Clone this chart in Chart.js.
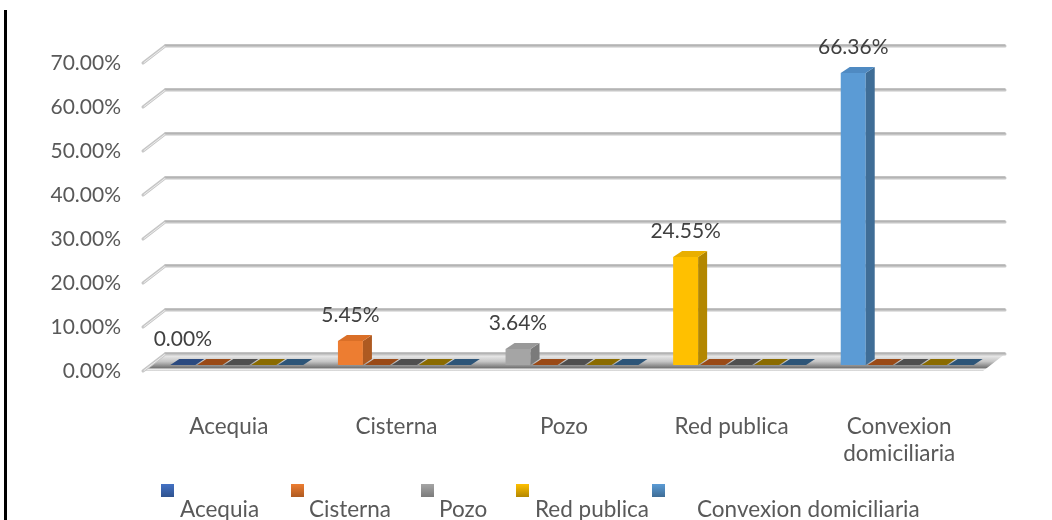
<!DOCTYPE html>
<html>
<head>
<meta charset="utf-8">
<script src="https://cdn.jsdelivr.net/npm/chart.js@4.4.1/dist/chart.umd.min.js"></script>
<style>
html,body{margin:0;padding:0;background:#ffffff;}
canvas{display:block;}
</style>
</head>
<body>
<canvas id="c" width="1052" height="520"></canvas>
<script>
// ---- data ----
const categories = ['Acequia', 'Cisterna', 'Pozo', 'Red publica', 'Convexion domiciliaria'];
const percentages = [0.00, 5.45, 3.64, 24.55, 66.36];
const emptySeries2 = [0, 0, 0, 0, 0];
const emptySeries3 = [0, 0, 0, 0, 0];
const emptySeries4 = [0, 0, 0, 0, 0];
const emptySeries5 = [0, 0, 0, 0, 0];
const yTickValues = [0, 10, 20, 30, 40, 50, 60, 70];

// ---- styles ----
const pointColors = ['#4472C4', '#ED7D31', '#A5A5A5', '#FFC000', '#5B9BD5'];
const pointSide   = ['#2F528F', '#AE5A21', '#7B7B7B', '#B38700', '#3F6D96'];
const pointTop    = ['#3E68B4', '#DA6F27', '#999999', '#E9AF00', '#4F8AC2'];
const pointSlab   = ['#2B4A80', '#9A4A17', '#555555', '#8A6B00', '#2D5578'];
const emptyColors = ['#ED7D31', '#A5A5A5', '#FFC000', '#5B9BD5'];
const emptySlab   = ['#9A4A17', '#4F4F4F', '#8A6B00', '#2D5578'];
const DX = 9, DY = 6;
const FONT = 'Lato';

function slabColor(di, i) { return di === 0 ? pointSlab[i] : emptySlab[di - 1]; }

const frame = {
  id: 'frame',
  beforeDraw(chart) {
    const ctx = chart.ctx;
    ctx.save();
    ctx.fillStyle = '#000';
    ctx.fillRect(4, 10, 3, 510);
    ctx.restore();
  }
};

const bars3d = {
  id: 'bars3d',
  beforeDatasetsDraw(chart) {
    const {ctx, chartArea: a, scales: {y}} = chart;
    const y0 = y.getPixelForValue(0);
    ctx.save();
    // floor
    const fl = a.left - 10, br = a.right + 14;
    const g = ctx.createLinearGradient(0, y0 - 11, 0, y0 + 6);
    g.addColorStop(0, '#F4F4F4');
    g.addColorStop(0.45, '#C4C4C4');
    g.addColorStop(0.8, '#767676');
    g.addColorStop(0.9, '#F0F0F0');
    g.addColorStop(1, '#CFCFCF');
    ctx.fillStyle = g;
    ctx.beginPath();
    ctx.moveTo(fl, y0 + 6);
    ctx.lineTo(a.left + 12, y0 - 11);
    ctx.lineTo(br, y0 - 11);
    ctx.lineTo(a.right - 8, y0 + 6);
    ctx.closePath();
    ctx.fill();
    // gridlines (back wall + left diagonal)
    yTickValues.forEach(v => {
      const yb = y.getPixelForValue(v);
      ctx.lineCap = 'round';
      ctx.strokeStyle = '#C6C6C6';
      ctx.lineWidth = 3;
      ctx.beginPath();
      ctx.moveTo(fl, yb + 6);
      ctx.lineTo(a.left + 12, yb - 11);
      ctx.lineTo(br, yb - 11);
      ctx.stroke();
      ctx.strokeStyle = '#A2A2A2';
      ctx.lineWidth = 1;
      ctx.beginPath();
      ctx.moveTo(a.left + 12, yb - 12);
      ctx.lineTo(br, yb - 12);
      ctx.stroke();
      ctx.strokeStyle = '#EDEDED';
      ctx.beginPath();
      ctx.moveTo(fl + 1, yb + 5.5);
      ctx.lineTo(a.left + 12, yb - 10.5);
      ctx.stroke();
    });
    // flat slabs for zero values
    chart.data.datasets.forEach((ds, di) => {
      const meta = chart.getDatasetMeta(di);
      meta.data.forEach((el, i) => {
        if (ds.data[i] !== 0) return;
        const {x, base, width} = el.getProps(['x', 'base', 'width'], true);
        const L = x - width / 2, R = x + width / 2;
        ctx.fillStyle = slabColor(di, i);
        ctx.beginPath();
        ctx.moveTo(L, base);
        ctx.lineTo(L + DX, base - DY);
        ctx.lineTo(R + DX, base - DY);
        ctx.lineTo(R, base);
        ctx.closePath();
        ctx.fill();
      });
    });
    ctx.restore();
  },
  afterDatasetsDraw(chart) {
    const ctx = chart.ctx;
    ctx.save();
    chart.data.datasets.forEach((ds, di) => {
      const meta = chart.getDatasetMeta(di);
      meta.data.forEach((el, i) => {
        if (ds.data[i] === 0) return;
        const {x, y, base, width} = el.getProps(['x', 'y', 'base', 'width'], true);
        const L = x - width / 2, R = x + width / 2;
        ctx.fillStyle = pointSide[i];
        ctx.beginPath();
        ctx.moveTo(R, y);
        ctx.lineTo(R + DX, y - DY);
        ctx.lineTo(R + DX, base - DY);
        ctx.lineTo(R, base);
        ctx.closePath();
        ctx.fill();
        ctx.fillStyle = pointTop[i];
        ctx.beginPath();
        ctx.moveTo(L, y);
        ctx.lineTo(L + DX, y - DY);
        ctx.lineTo(R + DX, y - DY);
        ctx.lineTo(R, y);
        ctx.closePath();
        ctx.fill();
      });
    });
    // data labels for the main series
    const meta0 = chart.getDatasetMeta(0);
    ctx.font = '21px ' + FONT;
    ctx.fillStyle = '#404040';
    ctx.textAlign = 'center';
    ctx.textBaseline = 'middle';
    meta0.data.forEach((el, i) => {
      const {x, y} = el.getProps(['x', 'y'], true);
      ctx.fillText(percentages[i].toFixed(2) + '%', x, y - 26);
    });
    ctx.restore();
  }
};

const legendRow = {
  id: 'legendRow',
  afterDraw(chart) {
    const ctx = chart.ctx;
    const boxX = [161, 291, 421, 516, 652];
    const textX = [180, 309, 439, 535, 697];
    ctx.save();
    categories.forEach((c, i) => {
      const g = ctx.createLinearGradient(0, 484, 0, 497);
      g.addColorStop(0, pointColors[i]);
      g.addColorStop(1, pointSide[i]);
      ctx.fillStyle = g;
      ctx.fillRect(boxX[i], 484, 13, 13);
      ctx.font = '22.5px ' + FONT;
      ctx.fillStyle = '#595959';
      ctx.textAlign = 'left';
      ctx.textBaseline = 'middle';
      ctx.fillText(c, textX[i], 510);
    });
    ctx.restore();
  }
};

Chart.defaults.font.family = FONT;
Chart.defaults.font.size = 21;
Chart.defaults.color = '#595959';

new Chart(document.getElementById('c'), {
  type: 'bar',
  data: {
    labels: categories,
    datasets: [
      { label: 'Porcentaje', data: percentages, backgroundColor: pointColors },
      { label: 'Serie 2', data: emptySeries2, backgroundColor: emptyColors[0] },
      { label: 'Serie 3', data: emptySeries3, backgroundColor: emptyColors[1] },
      { label: 'Serie 4', data: emptySeries4, backgroundColor: emptyColors[2] },
      { label: 'Serie 5', data: emptySeries5, backgroundColor: emptyColors[3] }
    ]
  },
  options: {
    responsive: false,
    animation: false,
    categoryPercentage: 0.805,
    barPercentage: 0.926,
    layout: { padding: { top: 57, right: 61, bottom: 0, left: 0 } },
    plugins: { legend: { display: false }, tooltip: { enabled: false } },
    scales: {
      x: {
        grid: { display: false, drawTicks: false },
        border: { display: false },
        afterFit: s => { s.height = 155; },
        ticks: {
          padding: 48,
          labelOffset: -8,
          maxRotation: 0,
          autoSkip: false,
          color: '#595959',
          font: { size: 22.5, lineHeight: 1.2 },
          callback: (v, i) => categories[i].length > 12 ? categories[i].split(' ') : categories[i]
        }
      },
      y: {
        min: 0,
        max: 70,
        grid: { display: false, drawTicks: false },
        border: { display: false },
        afterFit: s => { s.width = 153; },
        afterBuildTicks: s => { s.ticks = yTickValues.map(v => ({ value: v })); },
        ticks: {
          padding: 32,
          labelOffset: 6,
          color: '#595959',
          font: { size: 21 },
          callback: v => Number(v).toFixed(2) + '%'
        }
      }
    }
  },
  plugins: [frame, bars3d, legendRow]
});
</script>
</body>
</html>
